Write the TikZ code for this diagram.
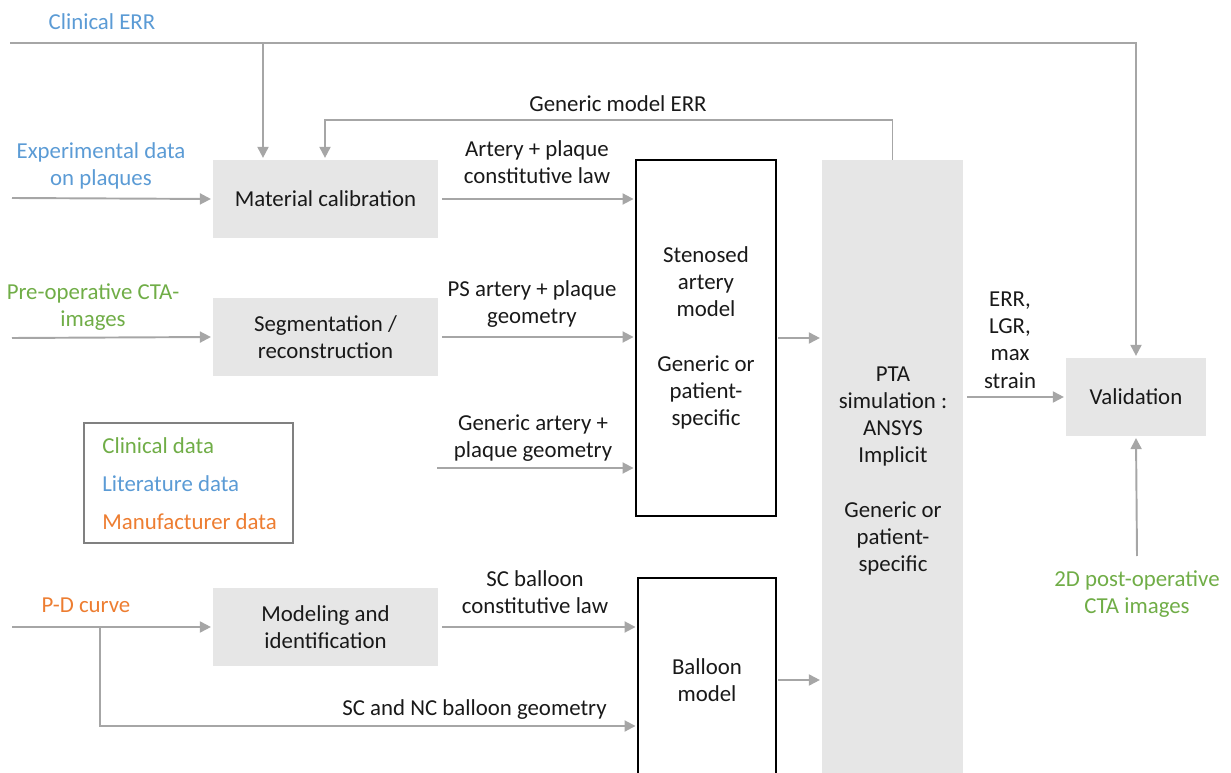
\documentclass[tikz,border=0pt]{standalone}
\usepackage{fontspec}
\setmainfont{Carlito}
\usetikzlibrary{arrows.meta,positioning}
\definecolor{linegray}{HTML}{A6A6A6}
\definecolor{boxgray}{HTML}{E6E6E6}
\definecolor{litblue}{HTML}{5B9BD5}
\definecolor{clingreen}{HTML}{70AD47}
\definecolor{manorange}{HTML}{ED7D31}

\begin{document}
\begin{tikzpicture}[x=0.02cm, y=-0.02cm,
    every node/.style={font=\fontsize{13}{15.5}\selectfont, align=center, inner sep=0pt, text=black!90},
    graybox/.style={fill=boxgray, minimum width=4.5cm, minimum height=1.56cm},
    whitebox/.style={draw=black, line width=0.8pt, fill=white},
    flow/.style={draw=linegray, line width=1.1pt, shorten >=1pt, -{Triangle[length=0.22cm, width=0.22cm]}}]
    \useasboundingbox (0,0) rectangle (1231,773);

    % Inputs
    \node[text=litblue] (clinerr) at (102,22) {Clinical ERR};
    \node[text=litblue] (expdata) at (101,166) {Experimental data\\on plaques};
    \node[text=clingreen] (preop) at (93,307) {Pre-operative CTA-\\images};
    \node[text=manorange] (pdcurve) at (86,605) {P-D curve};
    \node[text=clingreen] (postop) at (1137,594) {2D post-operative\\CTA images};
    \coordinate (clinin) at (10,43);
    \coordinate (clinbranch) at (263,43);
    \coordinate (expin) at (12,198);
    \coordinate (prein) at (12,338);
    \coordinate (genin) at (437,468);
    \coordinate (pdin) at (12,627);
    \coordinate (pdbranch) at (100,627);
    \coordinate (geomcorner) at (100,726);
    \coordinate (errcorner) at (325,120);
    \coordinate (postin) at (1137,556);

    % Processing blocks
    \node[graybox] (matcal) at (325.5,199) {Material calibration};
    \node[graybox] (segm) at (325.5,337) {Segmentation /\\reconstruction};
    \node[graybox] (modid) at (325.5,627) {Modeling and\\identification};
    \node[whitebox, minimum width=2.8cm, minimum height=7.12cm] (sten) at (706,338)
        {Stenosed\\artery\\model\\[15.5pt]Generic or\\patient-\\specific};
    \node[whitebox, minimum width=2.76cm, minimum height=4.08cm] (balloon) at (707,680) {Balloon\\model};
    \node[fill=boxgray, minimum width=2.82cm, minimum height=12.4cm] (pta) at (892.5,470) {};
    \node (ptatext) at (893,471) {PTA\\simulation :\\ANSYS\\Implicit\\[15.5pt]Generic or\\patient-\\specific};
    \node[graybox, minimum width=2.8cm] (valid) at (1136,397) {Validation};

    % Legend
    \node[draw=black!50, line width=0.6pt, minimum width=4.18cm, minimum height=2.4cm] (legend) at (188.5,483) {};
    \node[anchor=west, text=clingreen] (legclin) at (102,446) {Clinical data};
    \node[anchor=west, text=litblue] (leglit) at (102,484) {Literature data};
    \node[anchor=west, text=manorange] (legman) at (102,522) {Manufacturer data};

    % Connectors
    \draw[flow] (clinin) -| (valid.north);
    \draw[flow] (clinbranch) -- (clinbranch |- matcal.north);
    \draw[flow] (pta.north) |- (errcorner) -- (errcorner |- matcal.north);
    \node (errlbl) at (618,104) {Generic model ERR};
    \draw[flow] (expin) -- (matcal.west);
    \draw[flow, shorten <=2pt] (matcal.east) -- (matcal.east -| sten.west);
    \node (matlbl) at (537,162) {Artery + plaque\\constitutive law};
    \draw[flow] (prein) -- (segm.west);
    \draw[flow, shorten <=2pt] (segm.east) -- (segm.east -| sten.west);
    \node (pslbl) at (532,304) {PS artery + plaque\\geometry};
    \draw[flow] (genin) -- (genin -| sten.west);
    \node (genlbl) at (533,438) {Generic artery +\\plaque geometry};
    \draw[flow, shorten <=1pt] (sten.east) -- (sten.east -| pta.west);
    \draw[flow, shorten <=1pt] (balloon.east) -- (balloon.east -| pta.west);
    \draw[flow, shorten <=2pt] (pta.east |- valid.west) -- (valid.west);
    \node (outlbl) at (1010,340) {ERR,\\LGR,\\max\\strain};
    \draw[flow] (postin) -- (valid.south);
    \draw[flow] (pdin) -- (modid.west);
    \draw[flow, shorten <=2pt] (modid.east) -- (modid.east -| balloon.west);
    \node (sclbl) at (535,592) {SC balloon\\constitutive law};
    \draw[flow] (pdbranch) -- (geomcorner) -- (geomcorner -| balloon.west);
    \node[anchor=east] (geomlbl) at (607,710) {SC and NC balloon geometry};
\end{tikzpicture}
\end{document}
